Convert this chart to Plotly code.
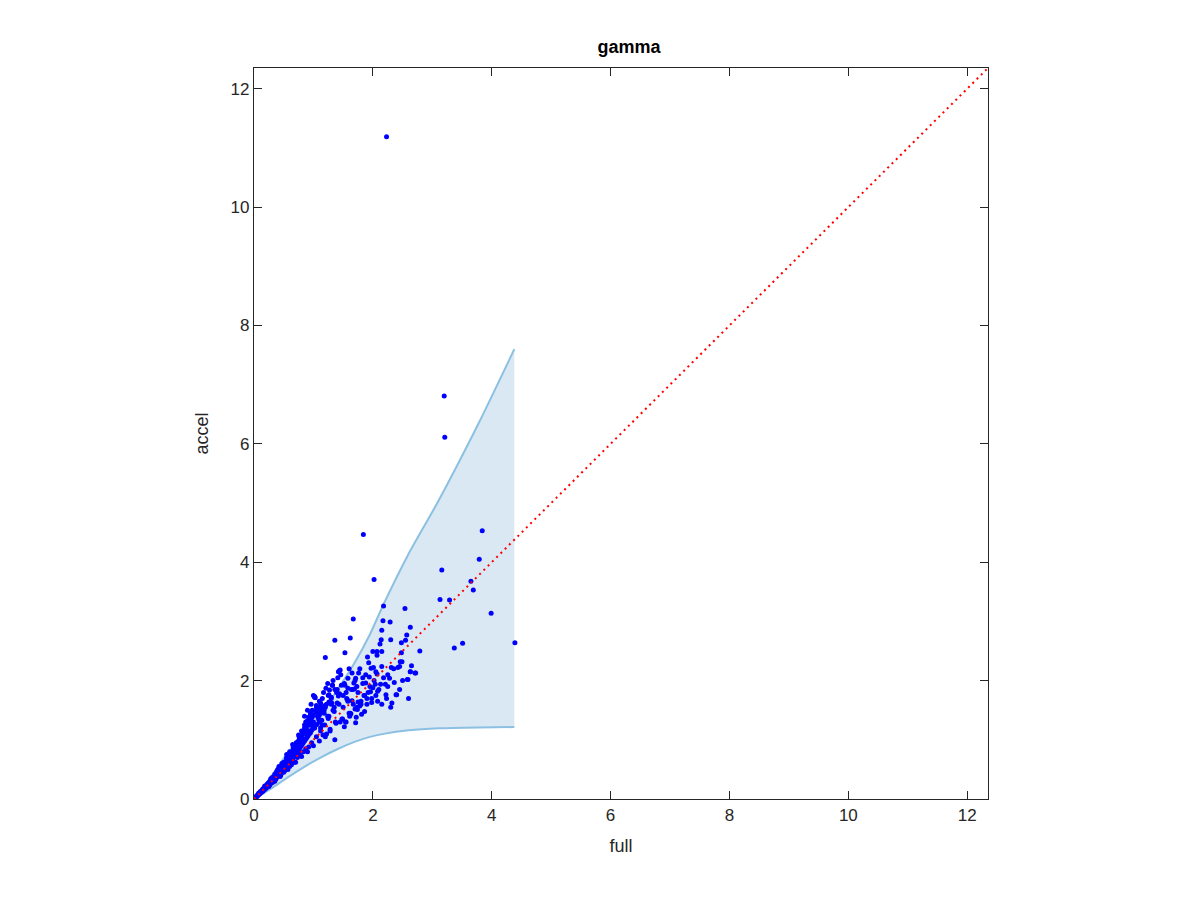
import plotly.graph_objects as go

# ---- data ----
full_vals = [
    # outliers / sparse region
    2.23, 3.20, 3.21, 1.84, 3.84, 3.79, 2.02, 3.16, 2.18, 2.54, 3.65, 3.69, 3.13, 3.29,
    3.99, 4.39, 3.37, 3.51, 2.17, 2.29, 2.63, 2.15, 2.57, 2.14, 2.30, 2.55, 2.48, 2.12,
    2.79, 2.48, 1.91, 2.00, 2.07, 2.15, 2.07, 2.46, 2.49, 2.45, 2.42, 2.31, 2.15, 2.01,
    1.97, 2.05, 2.63, 2.72, 1.88, 1.94, 2.07, 2.25, 2.28, 2.59, 2.36, 1.83, 1.88, 2.04,
    2.13, 2.21, 2.00, 1.67, 1.62, 1.36, 1.53, 1.20, 1.45, 1.42, 1.65, 1.76, 1.58, 1.41,
    1.71, 1.68, 1.32, 1.21, 1.27, 1.36, 1.53, 1.58, 1.73, 1.96, 2.08, 2.22, 2.39, 2.08,
    2.23, 1.03, 1.26, 1.42, 1.56, 1.75, 1.26, 1.74, 1.18, 1.05, 0.95, 1.72, 1.36, 1.71,
    2.32, 2.40, 2.58, 2.71, 2.63, 1.02, 1.08, 1.22,
    # mid cluster
    1.10, 1.15, 1.20, 1.25, 1.30, 1.35, 1.40, 1.45, 1.50, 1.55, 1.60, 1.65, 1.70, 1.80,
    1.85, 1.90, 1.12, 1.18, 1.24, 1.31, 1.38, 1.44, 1.49, 1.57, 1.63, 1.69, 1.78, 1.86,
    1.92, 1.33, 1.47, 1.52, 1.61, 1.28, 1.16, 1.09, 1.39, 1.54, 1.66, 1.81, 1.98, 1.14,
    1.02, 1.05, 1.07, 1.10, 1.12, 1.15, 1.17, 1.19, 1.22, 1.24, 1.26, 1.28, 1.30, 1.33,
    1.35, 1.37, 1.40, 1.43, 1.46, 1.48, 1.50, 1.52, 1.55, 1.58, 1.60, 1.62, 1.64, 1.67,
    1.70, 1.73, 1.75, 1.78, 1.80, 1.83, 1.86, 1.90, 1.93, 1.95, 1.98, 2.02, 2.05, 2.10,
    2.15, 2.18, 2.25, 2.30, 2.35, 2.45, 2.50, 2.60, 2.65,
    # dense cluster near origin
    0.02, 0.03, 0.04, 0.05, 0.06, 0.07, 0.08, 0.09, 0.10, 0.11, 0.12, 0.13, 0.14, 0.15,
    0.16, 0.17, 0.18, 0.19, 0.20, 0.21, 0.22, 0.23, 0.24, 0.25, 0.26, 0.27, 0.28, 0.29,
    0.30, 0.31, 0.32, 0.33, 0.34, 0.35, 0.36, 0.37, 0.38, 0.39, 0.40, 0.41, 0.42, 0.43,
    0.44, 0.45, 0.46, 0.47, 0.48, 0.49, 0.50, 0.51, 0.52, 0.53, 0.54, 0.55, 0.56, 0.57,
    0.58, 0.59, 0.60, 0.61, 0.62, 0.63, 0.64, 0.65, 0.66, 0.67, 0.68, 0.69, 0.70, 0.71,
    0.72, 0.73, 0.74, 0.75, 0.76, 0.77, 0.78, 0.79, 0.80, 0.81, 0.82, 0.83, 0.84, 0.85,
    0.86, 0.87, 0.88, 0.89, 0.90, 0.91, 0.92, 0.93, 0.94, 0.95, 0.96, 0.97, 0.98, 0.99,
    1.00, 1.02, 1.04, 1.06, 1.08, 1.10, 1.12, 1.14,
    0.15, 0.25, 0.35, 0.45, 0.50, 0.60, 0.70, 0.80, 0.90, 1.00, 1.10, 1.20, 0.55, 0.65,
    0.75, 0.85, 0.95, 1.05, 0.30, 0.40, 0.62, 0.72, 0.82, 0.92, 0.58, 0.68, 0.78, 0.88,
    0.98, 1.08, 1.18, 0.48, 0.38, 0.28, 0.18, 0.08,
    0.42, 0.44, 0.47, 0.52, 0.55, 0.57, 0.60, 0.63, 0.66, 0.68, 0.71, 0.73, 0.76, 0.78,
    0.80, 0.83, 0.85, 0.87, 0.90, 0.92, 0.95, 0.97, 0.96, 0.90, 1.00, 0.85,
    0.87, 1.02, 0.92, 0.98, 1.05, 1.12, 0.60, 0.65, 0.70, 0.75, 0.80, 0.85, 0.50, 0.55,
    0.45, 0.40, 0.35, 1.15, 1.20, 1.25, 1.30, 1.10, 1.00, 0.95, 0.88, 0.78, 0.68, 1.44,
    1.32,
]
accel_vals = [
    11.19, 6.81, 6.11, 4.47, 4.53, 4.05, 3.71, 3.87, 3.26, 3.22, 3.68, 3.53, 3.37, 3.36,
    3.14, 2.64, 2.55, 2.63, 3.01, 2.99, 2.90, 2.85, 2.77, 2.69, 2.69, 2.68, 2.64, 2.62,
    2.50, 2.47, 2.40, 2.49, 2.49, 2.49, 2.43, 2.32, 2.32, 2.24, 2.22, 2.22, 2.24, 2.22,
    2.21, 2.15, 2.15, 2.13, 2.10, 2.06, 2.11, 2.10, 2.04, 2.02, 1.97, 1.95, 1.96, 1.94,
    1.94, 1.94, 1.88, 3.04, 2.72, 2.68, 2.47, 2.39, 2.18, 2.15, 2.13, 2.13, 2.04, 2.05,
    2.04, 1.96, 1.92, 1.87, 1.84, 1.85, 1.92, 1.87, 1.90, 1.81, 1.82, 1.76, 1.76, 1.65,
    1.70, 1.71, 1.76, 1.74, 1.70, 1.64, 1.64, 1.51, 1.57, 1.50, 1.38, 1.38, 1.00, 1.29,
    1.62, 1.76, 2.02, 2.13, 2.15, 1.73, 1.55, 1.10,
    1.42, 1.25, 1.58, 1.36, 1.72, 1.48, 1.62, 1.30, 1.55, 1.80, 1.45, 1.66, 1.52, 1.60,
    1.75, 1.70, 1.20, 1.50, 1.40, 1.62, 1.28, 1.78, 1.35, 1.68, 1.44, 1.86, 1.57, 1.48,
    1.80, 1.50, 1.92, 1.22, 1.40, 1.18, 1.08, 1.34, 1.80, 1.30, 1.85, 1.43, 1.63, 1.48,
    1.20, 1.05, 1.40, 1.65, 1.15, 1.50, 1.80, 1.25, 1.60, 1.95, 1.40, 1.15, 1.70, 2.00,
    1.55, 1.30, 1.85, 1.60, 2.10, 1.35, 1.75, 1.95, 1.30, 1.65, 2.20, 1.45, 1.85, 1.60,
    2.00, 1.55, 1.80, 2.20, 1.65, 2.05, 1.75, 1.60, 2.30, 1.90, 1.70, 2.00, 1.75, 1.85,
    1.60, 2.05, 1.90, 1.55, 2.20, 1.85, 2.00, 1.70, 2.25,
    0.02, 0.04, 0.03, 0.06, 0.05, 0.08, 0.07, 0.10, 0.09, 0.13, 0.11, 0.12, 0.16, 0.14,
    0.18, 0.15, 0.20, 0.17, 0.22, 0.19, 0.25, 0.21, 0.27, 0.23, 0.29, 0.24, 0.31, 0.27,
    0.33, 0.28, 0.36, 0.30, 0.38, 0.33, 0.40, 0.34, 0.43, 0.37, 0.45, 0.39, 0.48, 0.40,
    0.50, 0.43, 0.53, 0.45, 0.56, 0.47, 0.59, 0.49, 0.62, 0.52, 0.64, 0.55, 0.67, 0.57,
    0.70, 0.60, 0.73, 0.62, 0.76, 0.66, 0.80, 0.68, 0.83, 0.71, 0.86, 0.74, 0.90, 0.77,
    0.93, 0.80, 0.97, 0.82, 1.00, 0.86, 1.03, 0.89, 1.07, 0.92, 1.10, 0.95, 1.13, 0.98,
    1.17, 1.01, 1.20, 1.04, 1.24, 1.07, 1.27, 1.10, 1.30, 1.12, 1.34, 1.16, 1.38, 1.19,
    1.42, 1.22, 1.47, 1.26, 1.52, 1.30, 1.56, 1.33,
    0.13, 0.21, 0.30, 0.40, 0.45, 0.55, 0.62, 0.72, 0.80, 0.90, 0.98, 1.05, 0.75, 0.92,
    1.08, 1.25, 1.42, 1.58, 0.36, 0.50, 0.70, 0.88, 1.02, 1.15, 0.64, 0.80, 0.95, 1.10,
    1.25, 1.38, 1.45, 0.58, 0.46, 0.34, 0.22, 0.10,
    0.55, 0.38, 0.60, 0.48, 0.68, 0.50, 0.80, 0.58, 0.88, 0.62, 0.95, 0.70, 1.05, 0.75,
    1.15, 0.80, 1.20, 0.85, 1.32, 0.88, 1.45, 0.95, 1.60, 1.50, 1.75, 1.40,
    1.30, 1.72, 1.38, 1.50, 1.55, 1.62, 0.68, 0.78, 0.85, 0.95, 1.00, 1.10, 0.62, 0.70,
    0.52, 0.48, 0.42, 1.70, 1.55, 1.75, 1.60, 1.45, 1.30, 1.25, 1.15, 0.98, 0.86, 2.17,
    1.92,
]

band_x = [0.00, 0.28, 0.56, 0.84, 1.12, 1.40, 1.68, 1.95, 2.18, 2.60, 3.10, 3.79, 4.38]
band_upper = [0.00, 0.37, 0.77, 1.10, 1.44, 1.84, 2.28, 2.78, 3.29, 4.14, 5.03, 6.37, 7.60]
band_lower = [0.00, 0.17, 0.36, 0.54, 0.70, 0.84, 0.96, 1.05, 1.10, 1.16, 1.195, 1.21, 1.215]

diag = [0.0, 12.35]
axis_range = [0, 12.35]
tick_vals = [0, 2, 4, 6, 8, 10, 12]

fill_color = "rgb(217,232,243)"
edge_color = "rgb(140,192,226)"
font_family = "Liberation Sans, Arial, sans-serif"

fig = go.Figure()

# shaded band
fig.add_trace(go.Scatter(
    x=band_x + band_x[::-1],
    y=band_upper + band_lower[::-1],
    fill="toself", fillcolor=fill_color, line=dict(width=0),
    mode="lines", hoverinfo="skip", showlegend=False))
fig.add_trace(go.Scatter(x=band_x, y=band_upper, mode="lines",
                         line=dict(color=edge_color, width=2, shape="spline", smoothing=0.6),
                         showlegend=False))
fig.add_trace(go.Scatter(x=band_x, y=band_lower, mode="lines",
                         line=dict(color=edge_color, width=2, shape="spline", smoothing=0.6),
                         showlegend=False))

# scatter
fig.add_trace(go.Scatter(x=full_vals, y=accel_vals, mode="markers",
                         marker=dict(color="#0000ff", size=5, line=dict(width=0)),
                         showlegend=False))

# diagonal
fig.add_trace(go.Scatter(x=diag, y=diag, mode="lines",
                         line=dict(color="#ff0000", width=2, dash="2px,4px"),
                         showlegend=False))

axis_common = dict(
    range=axis_range, tickvals=tick_vals, ticks="inside", ticklen=8,
    tickcolor="#262626", tickwidth=1.3, showline=True, linecolor="#262626",
    linewidth=1.3, mirror="ticks", showgrid=False, zeroline=False,
    tickfont=dict(family=font_family, size=17, color="#262626"),
)

fig.update_layout(
    width=1200, height=900,
    margin=dict(l=246, r=220, t=60, b=109),
    paper_bgcolor="white", plot_bgcolor="white",
    title=dict(text="<b>gamma</b>", x=0.5175, xanchor="center", y=0.957, yanchor="middle",
               font=dict(family=font_family, size=18, color="black")),
    xaxis=dict(title=dict(text="full", standoff=15,
                          font=dict(family=font_family, size=18, color="#262626")),
               **axis_common),
    yaxis=dict(title=dict(text="accel", standoff=17,
                          font=dict(family=font_family, size=18, color="#262626")),
               **axis_common),
)

fig.write_html("out.html")
